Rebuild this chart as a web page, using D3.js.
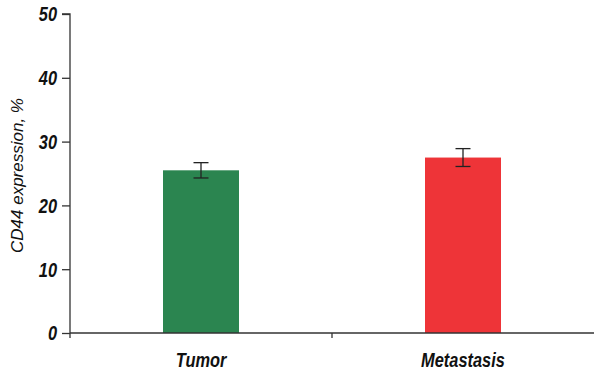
<!DOCTYPE html>
<html><head><meta charset="utf-8">
<script src="https://cdn.jsdelivr.net/npm/d3@7"></script>
<style>body{margin:0;background:#fff}svg text{font-family:"Liberation Sans",Arial,sans-serif;font-style:italic;font-weight:bold;fill:#111}</style>
</head><body><svg id="c" width="594" height="372"></svg>
<script>
const categories = ["Tumor", "Metastasis"];
const values = [25.5, 27.5];
const errors = [1.2, 1.4];
const colors = ["#2b8550", "#ee3438"];
const yTicks = [0, 10, 20, 30, 40, 50];

const svg = d3.select("#c");
const m = {left: 70, right: 0, top: 14, bottom: 39};
const W = 594, H = 372;
const x = d3.scaleBand().domain(categories).range([m.left, W]).paddingInner(0).paddingOuter(0);
const y = d3.scaleLinear().domain([0, 50]).range([H - m.bottom, m.top]);
const bw = 76;
const sx = 0.82;

const g = svg.append("g");
g.selectAll("rect").data(categories).enter().append("rect")
  .attr("x", d => x(d) + x.bandwidth()/2 - bw/2)
  .attr("y", (d,i) => y(values[i]))
  .attr("width", bw)
  .attr("height", (d,i) => y(0) - y(values[i]))
  .attr("fill", (d,i) => colors[i]);

// error bars
categories.forEach((c,i) => {
  const cx = x(c) + x.bandwidth()/2;
  g.append("line").attr("x1", cx).attr("x2", cx).attr("y1", y(values[i]+errors[i])).attr("y2", y(values[i]-errors[i])).attr("stroke","#222").attr("stroke-width",1.3);
  [values[i]+errors[i], values[i]-errors[i]].forEach(v => {
    g.append("line").attr("x1", cx-7.5).attr("x2", cx+7.5).attr("y1", y(v)).attr("y2", y(v)).attr("stroke","#222").attr("stroke-width",1.3);
  });
});

// y axis
const ya = svg.append("g").attr("transform", `translate(${m.left},0)`)
  .call(d3.axisLeft(y).tickValues(yTicks).tickSize(8).tickFormat(""));
ya.select(".domain").attr("stroke","#333").attr("stroke-width",1.3).attr("d", `M-8,${y(50)}H0V${y(0)+5}`);
ya.selectAll(".tick line").attr("stroke","#333").attr("stroke-width",1.3);
svg.append("g").selectAll("text").data(yTicks).enter().append("text")
  .attr("transform", d => `translate(57,${y(d)+7.3}) scale(${sx},1)`)
  .attr("text-anchor","end").style("font-size","20px").text(d => d);

// x axis
const xa = svg.append("g").attr("transform", `translate(0,${y(0)})`);
xa.append("line").attr("x1", m.left).attr("x2", W).attr("y1",0).attr("y2",0).attr("stroke","#333").attr("stroke-width",1.3);
xa.append("line").attr("x1", x(categories[1])).attr("x2", x(categories[1])).attr("y1",0).attr("y2",5).attr("stroke","#333").attr("stroke-width",1.3);
svg.append("g").selectAll("text").data(categories).enter().append("text")
  .attr("transform", d => `translate(${x(d) + x.bandwidth()/2},366.5) scale(${sx},1)`)
  .attr("text-anchor","middle").style("font-size","20px").text(d => d);

// y title
svg.append("text").attr("transform", `translate(23,${(y(0)+y(50))/2 + 2}) rotate(-90)`)
  .attr("text-anchor","middle").style("font-size","17px").style("font-weight","normal").text("CD44 expression, %");
</script></body></html>
